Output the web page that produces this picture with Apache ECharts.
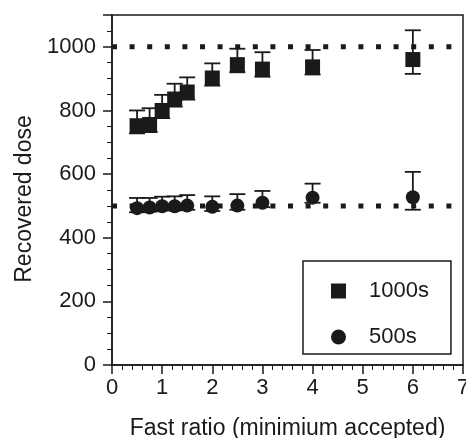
<!DOCTYPE html>
<html><head><meta charset="utf-8">
<script src="https://cdn.jsdelivr.net/npm/echarts@6/dist/echarts.min.js"></script>
<style>html,body{margin:0;padding:0;background:#fff}#c{width:466px;height:438px}</style>
</head><body><div id="c"></div>
<script>
const xValues = [0.5, 0.75, 1.0, 1.25, 1.5, 2.0, 2.5, 3.0, 4.0, 6.0];
const mean1000 = [752, 756, 800, 836, 858, 902, 944, 930, 937, 960];
const high1000 = [800, 807, 849, 884, 904, 948, 994, 983, 990, 1052];
const low1000  = [728, 732, 776, 812, 834, 878, 920, 906, 913, 915];
const mean500 = [493, 495, 499, 499, 501, 497, 501, 510, 526, 527];
const high500 = [525, 525, 529, 530, 534, 530, 537, 547, 570, 607];
const low500  = [480, 482, 486, 486, 488, 484, 488, 496, 510, 488];
const refLevels = [1000, 500];
const seriesNames = ['1000s', '500s'];

const FONT = 'Liberation Sans, Arial, sans-serif';
const INK = '#1a1a1a';

function pts(xs, ys){ return xs.map((x,i)=>[x, ys[i]]); }
function errData(xs, lo, hi){ return xs.map((x,i)=>[x, lo[i], hi[i]]); }

function errRender(params, api){
  const x = api.value(0);
  const lo = api.coord([x, api.value(1)]);
  const hi = api.coord([x, api.value(2)]);
  const w = 8;
  const st = {stroke: INK, lineWidth: 1.8};
  return {type:'group', children:[
    {type:'line', shape:{x1:lo[0], y1:lo[1], x2:hi[0], y2:hi[1]}, style:st},
    {type:'line', shape:{x1:hi[0]-w, y1:hi[1], x2:hi[0]+w, y2:hi[1]}, style:st},
    {type:'line', shape:{x1:lo[0]-w, y1:lo[1], x2:lo[0]+w, y2:lo[1]}, style:st}
  ]};
}

const chart = echarts.init(document.getElementById('c'));
chart.setOption({
  animation: false,
  backgroundColor: '#fff',
  grid: {left:112, right:3, top:15, bottom:73, show:true, borderColor:INK, borderWidth:1.5, backgroundColor:'transparent',
         containLabel:false, outerBoundsMode:'none'},
  xAxis: {
    type:'value', min:0, max:7, interval:1,
    name:'Fast ratio (minimium accepted)', nameLocation:'middle', nameGap:52,
    nameTextStyle:{fontFamily:FONT, fontSize:23, color:INK},
    axisLine:{lineStyle:{color:INK, width:1.5}},
    axisTick:{length:9, lineStyle:{color:INK, width:1.5}},
    minorTick:{show:true, splitNumber:5, length:5, lineStyle:{color:INK, width:1}},
    axisLabel:{fontFamily:FONT, fontSize:22, color:INK, margin:12, showMaxLabel:true, formatter: v => String(v)},
    splitLine:{show:false}
  },
  yAxis: {
    type:'value', min:0, max:1100, interval:200,
    name:'Recovered dose', nameLocation:'middle', nameGap:73,
    nameTextStyle:{fontFamily:FONT, fontSize:23, color:INK, padding:[0,18,0,0]},
    axisLine:{lineStyle:{color:INK, width:1.5}},
    axisTick:{length:9, lineStyle:{color:INK, width:1.5}},
    minorTick:{show:true, splitNumber:4, length:5, lineStyle:{color:INK, width:1}},
    axisLabel:{fontFamily:FONT, fontSize:22, color:INK, margin:16, showMaxLabel:false, formatter: v => String(v)},
    splitLine:{show:false}
  },
  legend: {
    orient:'vertical', left:303, top:261,
    data: seriesNames,
    itemWidth:15, itemHeight:15, itemGap:12,
    padding:[13, 22, 0, 28],
    borderColor:INK, borderWidth:1.5, backgroundColor:'#fff',
    textStyle:{fontFamily:FONT, fontSize:22, color:INK, lineHeight:24, padding:[0,0,10,18]}
  },
  series: [
    {type:'line', data: pts([0,7],[refLevels[0],refLevels[0]]), symbol:'none', silent:true,
     lineStyle:{color:INK, width:5, type:[5,12.6], cap:'butt'}, z:1},
    {type:'line', data: pts([0,7],[refLevels[1],refLevels[1]]), symbol:'none', silent:true,
     lineStyle:{color:INK, width:5, type:[5,12.6], cap:'butt'}, z:1},
    {type:'custom', renderItem: errRender, data: errData(xValues, low1000, high1000), z:2, encode:{x:0, y:[1,2]}},
    {type:'custom', renderItem: errRender, data: errData(xValues, low500, high500), z:2, encode:{x:0, y:[1,2]}},
    {name:seriesNames[0], type:'scatter', symbol:'rect', symbolSize:15, data: pts(xValues, mean1000),
     itemStyle:{color:INK, opacity:1}, z:3},
    {name:seriesNames[1], type:'scatter', symbol:'circle', symbolSize:14, data: pts(xValues, mean500),
     itemStyle:{color:INK, opacity:1}, z:3}
  ]
});
</script></body></html>
